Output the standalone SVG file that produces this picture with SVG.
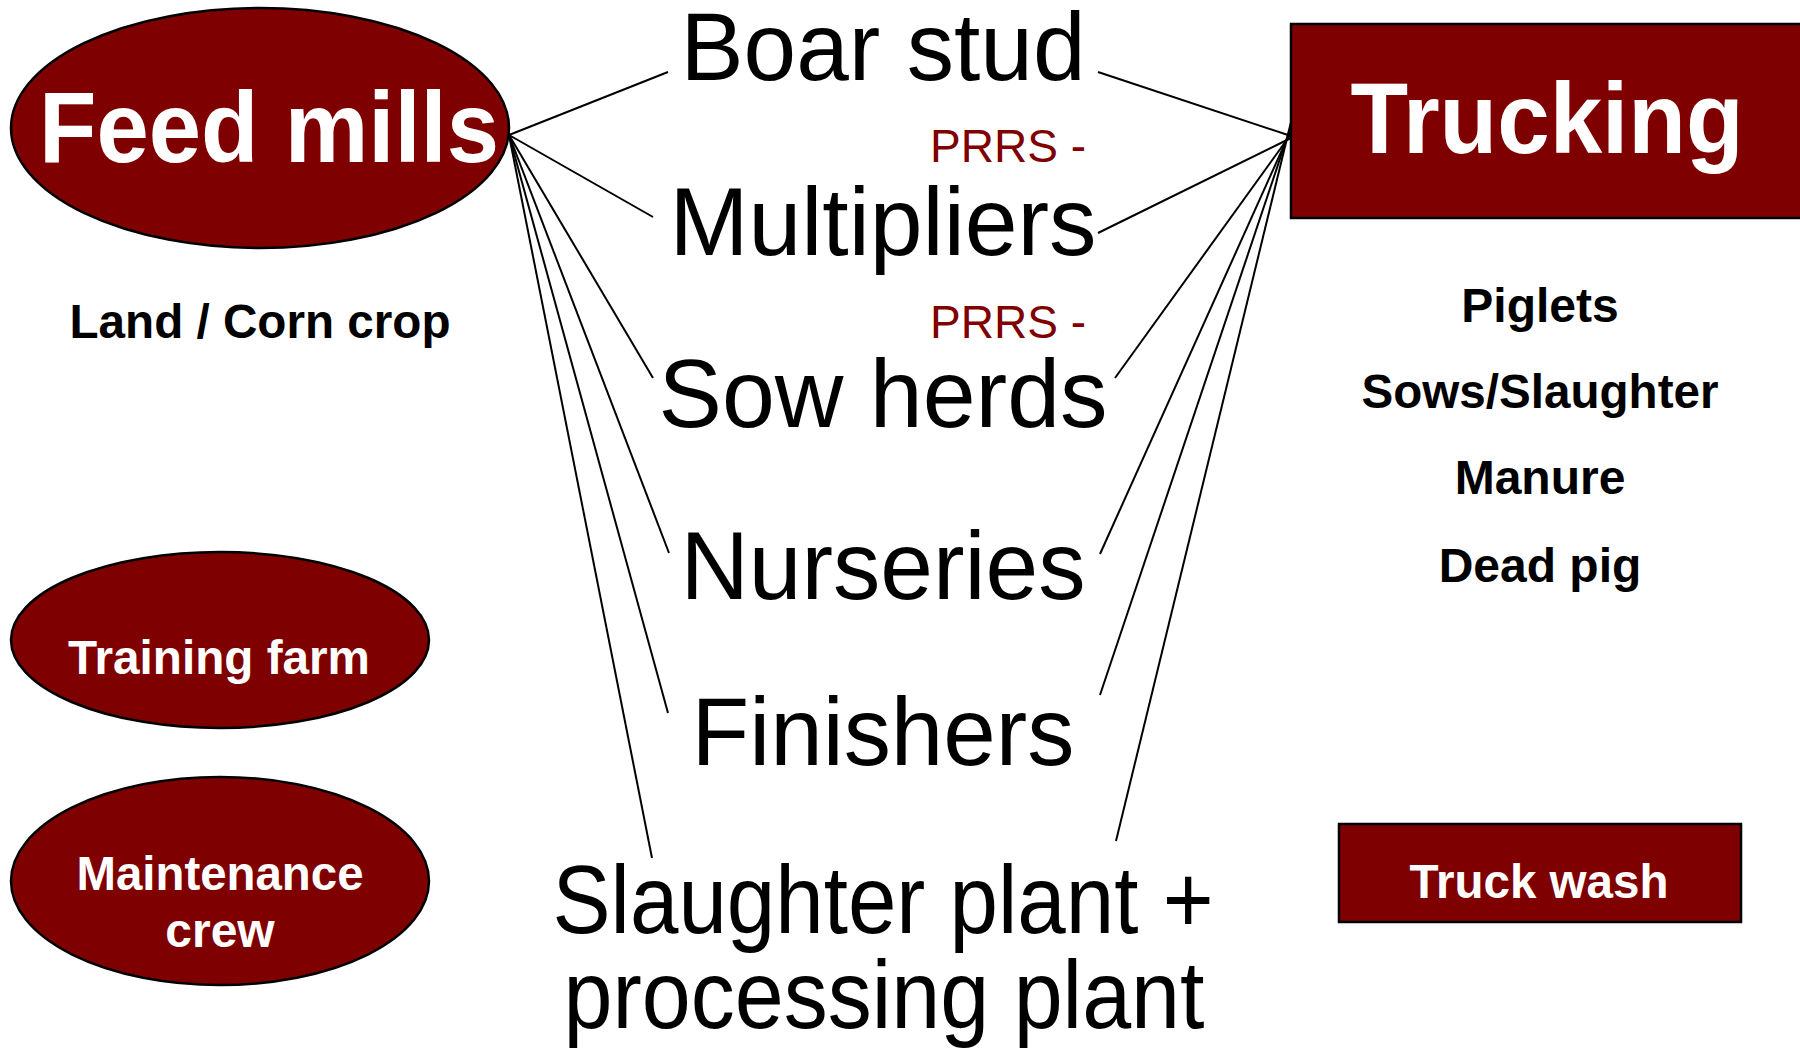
<svg xmlns="http://www.w3.org/2000/svg" width="1800" height="1054" viewBox="0 0 1800 1054">
<style>
.node{fill:#7f0000;stroke:#000;stroke-width:2.5}
.wb{fill:#fff;font-family:"Liberation Sans",Arial,sans-serif;font-weight:bold;text-anchor:middle}
.kb{fill:#000;font-family:"Liberation Sans",Arial,sans-serif;font-weight:bold;text-anchor:middle;font-size:48px}
.big{fill:#000;font-family:"Liberation Sans",Arial,sans-serif;text-anchor:middle;font-size:96px}
.prrs{fill:#800000;font-family:"Liberation Sans",Arial,sans-serif;font-size:47px}
.conn line{stroke:#000;stroke-width:2;fill:none}
</style>
<rect width="1800" height="1054" fill="#fff"/>
<g id="connectors" class="conn">
<line x1="509" y1="135" x2="668" y2="72"/>
<line x1="509" y1="135" x2="653" y2="217"/>
<line x1="509" y1="135" x2="653" y2="378"/>
<line x1="509" y1="135" x2="669" y2="553"/>
<line x1="509" y1="135" x2="668" y2="713"/>
<line x1="509" y1="135" x2="652" y2="858"/>
<line x1="1291" y1="136" x2="1098" y2="72"/>
<line x1="1291" y1="138" x2="1098" y2="233"/>
<line x1="1291" y1="134" x2="1115" y2="378"/>
<line x1="1291" y1="130" x2="1100" y2="554"/>
<line x1="1291" y1="126" x2="1100" y2="695"/>
<line x1="1291" y1="122" x2="1116" y2="841"/>
</g>
<g id="feed-mills">
<ellipse class="node" cx="260" cy="128" rx="249" ry="120"/>
<text class="wb" x="269" y="162" font-size="100" textLength="460" lengthAdjust="spacingAndGlyphs">Feed mills</text>
</g>
<g id="land-corn">
<text class="kb" x="260" y="338" textLength="381" lengthAdjust="spacingAndGlyphs">Land / Corn crop</text>
</g>
<g id="training-farm">
<ellipse class="node" cx="220" cy="640" rx="209" ry="88"/>
<text class="wb" x="219" y="674" font-size="48" textLength="302" lengthAdjust="spacingAndGlyphs">Training farm</text>
</g>
<g id="maintenance-crew">
<ellipse class="node" cx="220" cy="881" rx="209" ry="104"/>
<text class="wb" x="220" y="890" font-size="48" textLength="287" lengthAdjust="spacingAndGlyphs">Maintenance</text>
<text class="wb" x="220" y="947" font-size="48">crew</text>
</g>
<g id="boar-stud"><text class="big" x="883" y="80" textLength="405" lengthAdjust="spacingAndGlyphs">Boar stud</text></g>
<g id="prrs-1"><text class="prrs" x="930" y="162" textLength="156" lengthAdjust="spacingAndGlyphs">PRRS -</text></g>
<g id="multipliers"><text class="big" x="883" y="255" textLength="427" lengthAdjust="spacingAndGlyphs">Multipliers</text></g>
<g id="prrs-2"><text class="prrs" x="930" y="338" textLength="156" lengthAdjust="spacingAndGlyphs">PRRS -</text></g>
<g id="sow-herds"><text class="big" x="883" y="427" textLength="449" lengthAdjust="spacingAndGlyphs">Sow herds</text></g>
<g id="nurseries"><text class="big" x="883" y="599" textLength="405" lengthAdjust="spacingAndGlyphs">Nurseries</text></g>
<g id="finishers"><text class="big" x="883" y="765" textLength="383" lengthAdjust="spacingAndGlyphs">Finishers</text></g>
<g id="slaughter-plant">
<text class="big" x="883" y="933" font-size="92" textLength="661" lengthAdjust="spacingAndGlyphs">Slaughter plant +</text>
<text class="big" x="884" y="1028" font-size="92" textLength="641" lengthAdjust="spacingAndGlyphs">processing plant</text>
</g>
<g id="trucking">
<rect class="node" x="1291" y="24" width="530" height="194"/>
<text class="wb" x="1547" y="153" font-size="100" textLength="393" lengthAdjust="spacingAndGlyphs">Trucking</text>
</g>
<g id="trucking-items">
<text class="kb" x="1540" y="322">Piglets</text>
<text class="kb" x="1540" y="408" textLength="357" lengthAdjust="spacingAndGlyphs">Sows/Slaughter</text>
<text class="kb" x="1540" y="494">Manure</text>
<text class="kb" x="1540" y="582">Dead pig</text>
</g>
<g id="truck-wash">
<rect class="node" x="1339" y="824" width="402" height="98"/>
<text class="wb" x="1539" y="898" font-size="48" textLength="259" lengthAdjust="spacingAndGlyphs">Truck wash</text>
</g>
</svg>
